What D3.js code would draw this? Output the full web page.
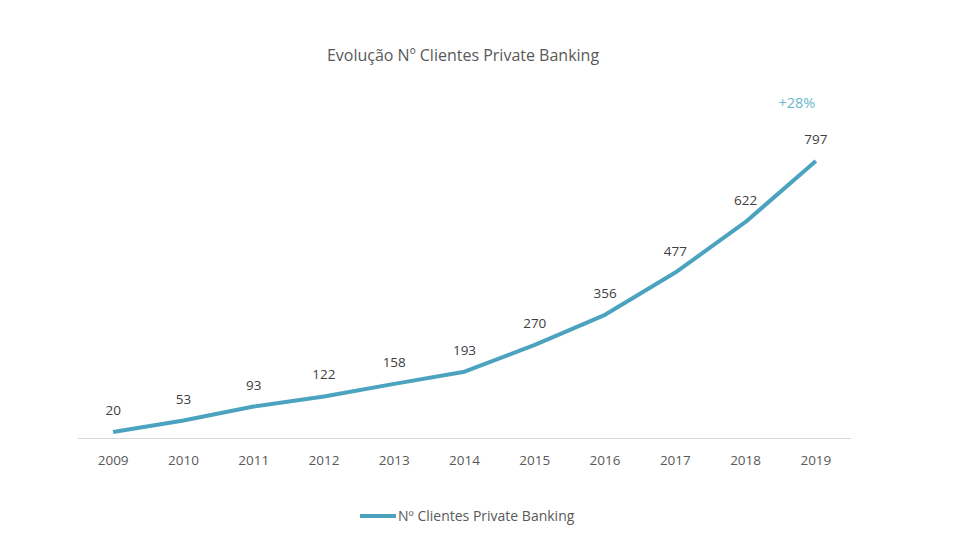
<!DOCTYPE html>
<html>
<head>
<meta charset="utf-8">
<script src="https://cdn.jsdelivr.net/npm/d3@7"></script>
<style>
  body { margin: 0; background: #fff; }
  text { font-family: "Open Sans", "Noto Sans", sans-serif; }
</style>
</head>
<body>
<div id="chart"></div>
<script>
'use strict';

const years = ['2009', '2010', '2011', '2012', '2013', '2014', '2015', '2016', '2017', '2018', '2019'];
const clients = [20, 53, 93, 122, 158, 193, 270, 356, 477, 622, 797];
const seriesName = 'Nº Clientes Private Banking';
const chartTitle = 'Evolução Nº Clientes Private Banking';
const growthLabel = '+28%';

const width = 957, height = 550;
const lineColor = '#4ba3bf';
const textColor = '#595959';

const svg = d3.select('#chart').append('svg')
    .attr('width', width)
    .attr('height', height);

let x = d3.scaleBand().domain(years).range([78, 851]);
let y = d3.scaleLinear().domain([0, 900]).range([439, 125]);

// title
svg.append('text')
    .attr('x', 463)
    .attr('y', 61)
    .attr('text-anchor', 'middle')
    .attr('font-size', 16)
    .attr('fill', textColor)
    .text(chartTitle);

// baseline
svg.append('line')
    .attr('x1', 78).attr('x2', 851)
    .attr('y1', 438.5).attr('y2', 438.5)
    .attr('stroke', '#d9d9d9')
    .attr('stroke-width', 1);

// year labels
let xAxis = d3.axisBottom(x).tickSize(0).tickPadding(0);
let gx = svg.append('g')
    .attr('transform', 'translate(0,465)')
    .call(xAxis);
gx.select('.domain').remove();
gx.selectAll('text')
    .attr('dy', 0)
    .attr('font-size', 13.5)
    .attr('font-family', '"Open Sans", "Noto Sans", sans-serif')
    .attr('fill', textColor);

const cx = d => x(d) + x.bandwidth() / 2;

let line = d3.line()
    .x((d, i) => cx(years[i]))
    .y(d => y(d));

svg.append('path')
    .datum(clients)
    .attr('fill', 'none')
    .attr('stroke', lineColor)
    .attr('stroke-width', 4)
    .attr('stroke-linejoin', 'round')
    .attr('d', line);

// data labels
svg.selectAll('.lbl')
    .data(clients)
    .enter()
    .append('text')
    .attr('class', 'lbl')
    .attr('x', (d, i) => cx(years[i]))
    .attr('y', d => y(d) - 17)
    .attr('text-anchor', 'middle')
    .attr('font-size', 13.5)
    .attr('fill', '#404040')
    .text(d => d);

// growth annotation
svg.append('text')
    .attr('x', cx(years[years.length - 1]) - 19)
    .attr('y', 108)
    .attr('text-anchor', 'middle')
    .attr('font-size', 14.5)
    .attr('fill', '#6db8d0')
    .text(growthLabel);

// legend
svg.append('line')
    .attr('x1', 360).attr('x2', 396)
    .attr('y1', 516).attr('y2', 516)
    .attr('stroke', lineColor)
    .attr('stroke-width', 4);
svg.append('text')
    .attr('x', 398)
    .attr('y', 521)
    .attr('font-size', 14)
    .attr('fill', textColor)
    .text(seriesName);
</script>
</body>
</html>
